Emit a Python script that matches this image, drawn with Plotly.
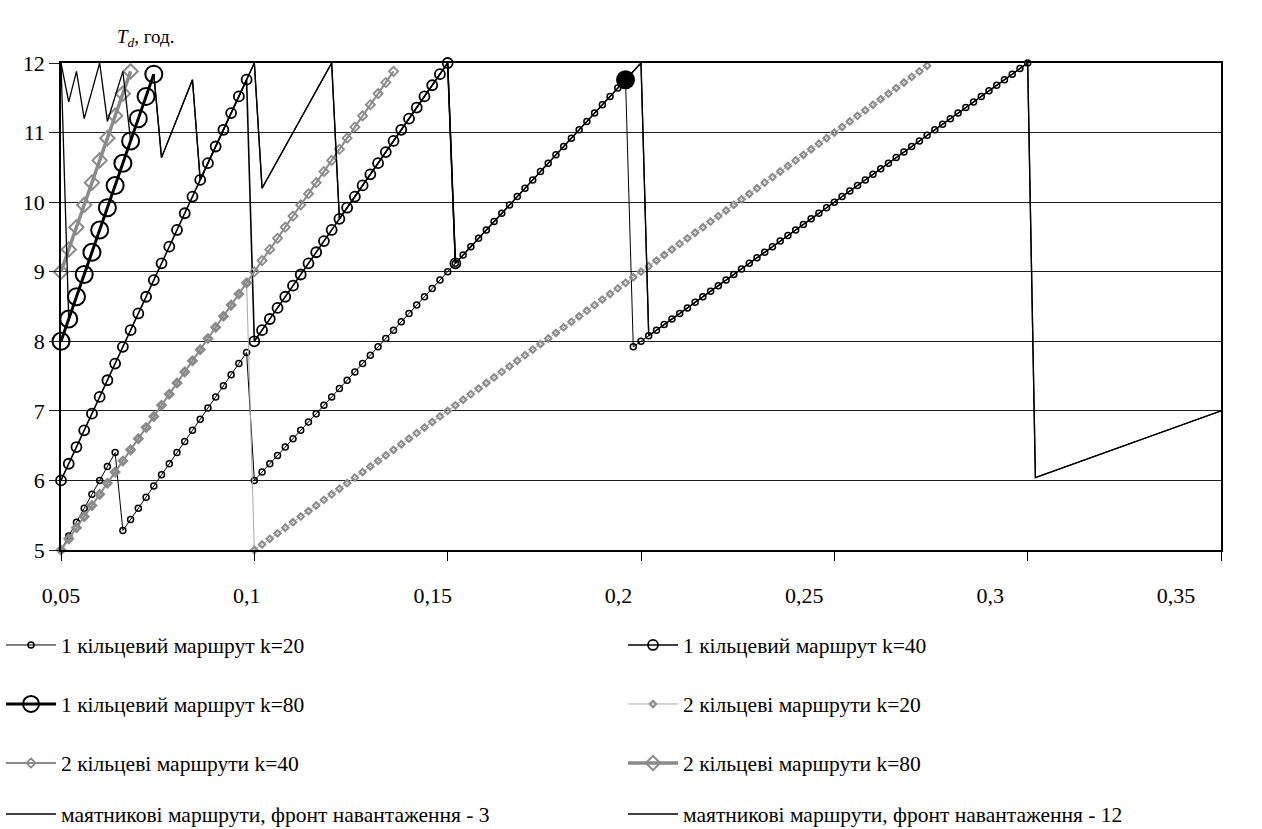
import plotly.graph_objects as go

# ---------------- data ----------------
# 1 ring route, k=20
R1_K20_X = [0.050, 0.052, 0.054, 0.056, 0.058, 0.060, 0.062, 0.064,
            0.066, 0.068, 0.070, 0.072, 0.074, 0.076, 0.078, 0.080, 0.082, 0.084, 0.086, 0.088,
            0.090, 0.092, 0.094, 0.096, 0.098,
            0.100, 0.102, 0.104, 0.106, 0.108, 0.110, 0.112, 0.114, 0.116, 0.118,
            0.120, 0.122, 0.124, 0.126, 0.128, 0.130, 0.132, 0.134, 0.136, 0.138,
            0.140, 0.142, 0.144, 0.146, 0.148, 0.150, 0.152, 0.154, 0.156, 0.158,
            0.160, 0.162, 0.164, 0.166, 0.168, 0.170, 0.172, 0.174, 0.176, 0.178,
            0.180, 0.182, 0.184, 0.186, 0.188, 0.190, 0.192, 0.194, 0.196,
            0.198, 0.200, 0.202, 0.204, 0.206, 0.208, 0.210, 0.212, 0.214, 0.216,
            0.218, 0.220, 0.222, 0.224, 0.226, 0.228, 0.230, 0.232, 0.234, 0.236,
            0.238, 0.240, 0.242, 0.244, 0.246, 0.248, 0.250, 0.252, 0.254, 0.256,
            0.258, 0.260, 0.262, 0.264, 0.266, 0.268, 0.270, 0.272, 0.274, 0.276,
            0.278, 0.280, 0.282, 0.284, 0.286, 0.288, 0.290, 0.292, 0.294, 0.296,
            0.298, 0.300]
R1_K20_Y = [5.00, 5.20, 5.40, 5.60, 5.80, 6.00, 6.20, 6.40,
            5.28, 5.44, 5.60, 5.76, 5.92, 6.08, 6.24, 6.40, 6.56, 6.72, 6.88, 7.04,
            7.20, 7.36, 7.52, 7.68, 7.84,
            6.00, 6.12, 6.24, 6.36, 6.48, 6.60, 6.72, 6.84, 6.96, 7.08,
            7.20, 7.32, 7.44, 7.56, 7.68, 7.80, 7.92, 8.04, 8.16, 8.28,
            8.40, 8.52, 8.64, 8.76, 8.88, 9.00, 9.12, 9.24, 9.36, 9.48,
            9.60, 9.72, 9.84, 9.96, 10.08, 10.20, 10.32, 10.44, 10.56, 10.68,
            10.80, 10.92, 11.04, 11.16, 11.28, 11.40, 11.52, 11.64, 11.76,
            7.92, 8.00, 8.08, 8.16, 8.24, 8.32, 8.40, 8.48, 8.56, 8.64,
            8.72, 8.80, 8.88, 8.96, 9.04, 9.12, 9.20, 9.28, 9.36, 9.44,
            9.52, 9.60, 9.68, 9.76, 9.84, 9.92, 10.00, 10.08, 10.16, 10.24,
            10.32, 10.40, 10.48, 10.56, 10.64, 10.72, 10.80, 10.88, 10.96, 11.04,
            11.12, 11.20, 11.28, 11.36, 11.44, 11.52, 11.60, 11.68, 11.76, 11.84,
            11.92, 12.00]
# point of the k=20 series drawn as a filled dot
R1_K20_HIGHLIGHT_X = 0.196

# 1 ring route, k=40
R1_K40_X = [0.050, 0.052, 0.054, 0.056, 0.058, 0.060, 0.062, 0.064, 0.066, 0.068,
            0.070, 0.072, 0.074, 0.076, 0.078, 0.080, 0.082, 0.084, 0.086, 0.088,
            0.090, 0.092, 0.094, 0.096, 0.098,
            0.100, 0.102, 0.104, 0.106, 0.108, 0.110, 0.112, 0.114, 0.116, 0.118,
            0.120, 0.122, 0.124, 0.126, 0.128, 0.130, 0.132, 0.134, 0.136, 0.138,
            0.140, 0.142, 0.144, 0.146, 0.148, 0.150, 0.152]
R1_K40_Y = [6.00, 6.24, 6.48, 6.72, 6.96, 7.20, 7.44, 7.68, 7.92, 8.16,
            8.40, 8.64, 8.88, 9.12, 9.36, 9.60, 9.84, 10.08, 10.32, 10.56,
            10.80, 11.04, 11.28, 11.52, 11.76,
            8.00, 8.16, 8.32, 8.48, 8.64, 8.80, 8.96, 9.12, 9.28, 9.44,
            9.60, 9.76, 9.92, 10.08, 10.24, 10.40, 10.56, 10.72, 10.88, 11.04,
            11.20, 11.36, 11.52, 11.68, 11.84, 12.00, 9.12]

# 1 ring route, k=80
R1_K80_X = [0.050, 0.052, 0.054, 0.056, 0.058, 0.060, 0.062, 0.064, 0.066, 0.068,
            0.070, 0.072, 0.074]
R1_K80_Y = [8.00, 8.32, 8.64, 8.96, 9.28, 9.60, 9.92, 10.24, 10.56, 10.88,
            11.20, 11.52, 11.84]

# 2 ring routes, k=20
R2_K20_X = [0.050, 0.052, 0.054, 0.056, 0.058, 0.060, 0.062, 0.064, 0.066, 0.068,
            0.070, 0.072, 0.074, 0.076, 0.078, 0.080, 0.082, 0.084, 0.086, 0.088,
            0.090, 0.092, 0.094, 0.096, 0.098,
            0.100, 0.102, 0.104, 0.106, 0.108, 0.110, 0.112, 0.114, 0.116, 0.118,
            0.120, 0.122, 0.124, 0.126, 0.128, 0.130, 0.132, 0.134, 0.136, 0.138,
            0.140, 0.142, 0.144, 0.146, 0.148, 0.150, 0.152, 0.154, 0.156, 0.158,
            0.160, 0.162, 0.164, 0.166, 0.168, 0.170, 0.172, 0.174, 0.176, 0.178,
            0.180, 0.182, 0.184, 0.186, 0.188, 0.190, 0.192, 0.194, 0.196, 0.198,
            0.200, 0.202, 0.204, 0.206, 0.208, 0.210, 0.212, 0.214, 0.216, 0.218,
            0.220, 0.222, 0.224, 0.226, 0.228, 0.230, 0.232, 0.234, 0.236, 0.238,
            0.240, 0.242, 0.244, 0.246, 0.248, 0.250, 0.252, 0.254, 0.256, 0.258,
            0.260, 0.262, 0.264, 0.266, 0.268, 0.270, 0.272, 0.274]
R2_K20_Y = [5.00, 5.16, 5.32, 5.48, 5.64, 5.80, 5.96, 6.12, 6.28, 6.44,
            6.60, 6.76, 6.92, 7.08, 7.24, 7.40, 7.56, 7.72, 7.88, 8.04,
            8.20, 8.36, 8.52, 8.68, 8.84,
            5.00, 5.08, 5.16, 5.24, 5.32, 5.40, 5.48, 5.56, 5.64, 5.72,
            5.80, 5.88, 5.96, 6.04, 6.12, 6.20, 6.28, 6.36, 6.44, 6.52,
            6.60, 6.68, 6.76, 6.84, 6.92, 7.00, 7.08, 7.16, 7.24, 7.32,
            7.40, 7.48, 7.56, 7.64, 7.72, 7.80, 7.88, 7.96, 8.04, 8.12,
            8.20, 8.28, 8.36, 8.44, 8.52, 8.60, 8.68, 8.76, 8.84, 8.92,
            9.00, 9.08, 9.16, 9.24, 9.32, 9.40, 9.48, 9.56, 9.64, 9.72,
            9.80, 9.88, 9.96, 10.04, 10.12, 10.20, 10.28, 10.36, 10.44, 10.52,
            10.60, 10.68, 10.76, 10.84, 10.92, 11.00, 11.08, 11.16, 11.24, 11.32,
            11.40, 11.48, 11.56, 11.64, 11.72, 11.80, 11.88, 11.96]

# 2 ring routes, k=40
R2_K40_X = [0.050, 0.052, 0.054, 0.056, 0.058, 0.060, 0.062, 0.064, 0.066, 0.068,
            0.070, 0.072, 0.074, 0.076, 0.078, 0.080, 0.082, 0.084, 0.086, 0.088,
            0.090, 0.092, 0.094, 0.096, 0.098, 0.100, 0.102, 0.104, 0.106, 0.108,
            0.110, 0.112, 0.114, 0.116, 0.118, 0.120, 0.122, 0.124, 0.126, 0.128,
            0.130, 0.132, 0.134, 0.136]
R2_K40_Y = [5.00, 5.16, 5.32, 5.48, 5.64, 5.80, 5.96, 6.12, 6.28, 6.44,
            6.60, 6.76, 6.92, 7.08, 7.24, 7.40, 7.56, 7.72, 7.88, 8.04,
            8.20, 8.36, 8.52, 8.68, 8.84, 9.00, 9.16, 9.32, 9.48, 9.64,
            9.80, 9.96, 10.12, 10.28, 10.44, 10.60, 10.76, 10.92, 11.08, 11.24,
            11.40, 11.56, 11.72, 11.88]

# 2 ring routes, k=80
R2_K80_X = [0.050, 0.052, 0.054, 0.056, 0.058, 0.060, 0.062, 0.064, 0.066, 0.068]
R2_K80_Y = [9.00, 9.32, 9.64, 9.96, 10.28, 10.60, 10.92, 11.24, 11.56, 11.88]

# pendulum routes (break points of the polylines)
P3_X = [0.050, 0.052, 0.074, 0.076, 0.084, 0.086, 0.100, 0.102, 0.120, 0.122,
        0.150, 0.152, 0.200, 0.202, 0.300, 0.302, 0.354]
P3_Y = [12.00, 8.32, 11.84, 10.64, 11.76, 10.32, 12.00, 10.20, 12.00, 9.76,
        12.00, 9.12, 12.00, 8.08, 12.00, 6.04, 7.08]
P12_X = [0.050, 0.052, 0.054, 0.056, 0.060, 0.062, 0.066, 0.068, 0.074, 0.076,
         0.084, 0.086, 0.100, 0.102, 0.120, 0.122, 0.150, 0.152, 0.200, 0.202,
         0.300, 0.302, 0.354]
P12_Y = [12.00, 11.44, 11.88, 11.20, 12.00, 11.16, 11.88, 10.88, 11.84, 10.64,
         11.76, 10.32, 12.00, 10.20, 12.00, 9.76, 12.00, 9.12, 12.00, 8.08,
         12.00, 6.04, 7.08]

SERIES_NAMES = [
    "1 кільцевий маршрут k=20",
    "1 кільцевий маршрут k=40",
    "1 кільцевий маршрут k=80",
    "2 кільцеві маршрути k=20",
    "2 кільцеві маршрути k=40",
    "2 кільцеві маршрути k=80",
    "маятникові маршрути, фронт навантаження - 3",
    "маятникові маршрути, фронт навантаження - 12",
]

X_TICKS = [0.05, 0.10, 0.15, 0.20, 0.25, 0.30, 0.35]
X_TICK_TEXT = ["0,05", "0,1", "0,15", "0,2", "0,25", "0,3", "0,35"]
Y_TICKS = [5, 6, 7, 8, 9, 10, 11, 12]

# ---------------- figure ----------------
FONT = "Liberation Serif, Times New Roman, serif"
BLACK = "#000000"
GREY = "#8a8a8a"
LIGHT_GREY = "#a8a8a8"

# plot area: 61..1221 px horizontally, 63..550 px vertically
PLOT_L, PLOT_T = 61, 63
PLOT_W, PLOT_H = 1160, 487
LABEL_SPAN = 1115          # horizontal extent of the tick-label row
LEGEND_TEXT_OFFSET = 60    # legend box edge -> start of the item text
LEGEND_COLS = [61, 683]    # text start of the two legend columns (px)
LEGEND_ROWS = [645, 704, 763, 814]  # row centres (px)

fig = go.Figure()


def legend_id(i):
    return "legend" if i == 0 else f"legend{i + 1}"


def legend_box(i):
    col, row = i % 2, i // 2
    left = LEGEND_COLS[col] - LEGEND_TEXT_OFFSET
    return dict(
        orientation="h", x=(left - PLOT_L) / PLOT_W, xanchor="left",
        y=(PLOT_T + PLOT_H - LEGEND_ROWS[row]) / PLOT_H, yanchor="middle",
        font=dict(family=FONT, size=21.5, color=BLACK),
        itemwidth=50, bgcolor="rgba(0,0,0,0)", borderwidth=0,
    )


def add_series(i, x, y, line, marker=None):
    fig.add_trace(go.Scatter(
        x=x, y=y, name=SERIES_NAMES[i], legend=legend_id(i),
        mode="lines+markers" if marker else "lines",
        line=line, marker=marker, cliponaxis=False,
        hoverinfo="skip",
    ))


add_series(0, R1_K20_X, R1_K20_Y,
           dict(color=BLACK, width=1),
           dict(symbol="circle-open", size=6, color=BLACK, line=dict(width=1.5, color=BLACK)))
add_series(1, R1_K40_X, R1_K40_Y,
           dict(color=BLACK, width=1.6),
           dict(symbol="circle-open", size=10, color=BLACK, line=dict(width=1.8, color=BLACK)))
add_series(2, R1_K80_X, R1_K80_Y,
           dict(color=BLACK, width=3),
           dict(symbol="circle-open", size=17, color=BLACK, line=dict(width=2, color=BLACK)))
add_series(3, R2_K20_X, R2_K20_Y,
           dict(color=LIGHT_GREY, width=1),
           dict(symbol="diamond-open", size=5, color=GREY, line=dict(width=2, color=GREY)))
add_series(4, R2_K40_X, R2_K40_Y,
           dict(color=GREY, width=2),
           dict(symbol="diamond-open", size=7, color=GREY, line=dict(width=1.8, color=GREY)))
add_series(5, R2_K80_X, R2_K80_Y,
           dict(color=GREY, width=3.5),
           dict(symbol="diamond-open", size=11, color=GREY, line=dict(width=2, color=GREY)))
add_series(6, P3_X, P3_Y, dict(color=BLACK, width=1.3))
add_series(7, P12_X, P12_Y, dict(color=BLACK, width=1.3))

# filled dot on the k=20 series
hi = R1_K20_X.index(R1_K20_HIGHLIGHT_X)
fig.add_trace(go.Scatter(
    x=[R1_K20_X[hi]], y=[R1_K20_Y[hi]], mode="markers", showlegend=False,
    marker=dict(symbol="circle", size=19, color=BLACK), cliponaxis=False, hoverinfo="skip",
))

# empty trace so the tick-label axis gets drawn
fig.add_trace(go.Scatter(x=[], y=[], xaxis="x2", yaxis="y", showlegend=False, hoverinfo="skip"))

layout_legends = {legend_id(i): legend_box(i) for i in range(len(SERIES_NAMES))}

fig.update_layout(
    width=1262, height=829,
    margin=dict(l=PLOT_L, r=1262 - PLOT_L - PLOT_W, t=PLOT_T, b=829 - PLOT_T - PLOT_H,
                autoexpand=False),
    paper_bgcolor="white", plot_bgcolor="white",
    font=dict(family=FONT, color=BLACK),
    showlegend=True,
    xaxis=dict(
        range=[0.05, 0.35], tickmode="array", tickvals=X_TICKS,
        showticklabels=False, ticks="outside", ticklen=9, tickcolor=BLACK, tickwidth=1,
        showgrid=False, zeroline=False,
        showline=True, linecolor=BLACK, linewidth=1.5, mirror=True,
    ),
    xaxis2=dict(
        overlaying="x", anchor="y", side="bottom",
        range=[0.05, 0.05 + 0.30 * PLOT_W / LABEL_SPAN],
        tickmode="array", tickvals=X_TICKS, ticktext=X_TICK_TEXT, ticks="",
        showgrid=False, zeroline=False, showline=False,
        tickfont=dict(family=FONT, size=22, color=BLACK),
        ticklabelstandoff=30,
    ),
    yaxis=dict(
        range=[5, 12], tickmode="array", tickvals=Y_TICKS,
        ticks="outside", ticklen=10, tickcolor="#1f1f1f",
        tickfont=dict(family=FONT, size=22, color=BLACK),
        showgrid=True, gridcolor="#1f1f1f", gridwidth=1,
        zeroline=False, showline=True, linecolor=BLACK, linewidth=1.5, mirror=True,
    ),
    annotations=[dict(
        text="<i>T<sub>d</sub></i>, год.", xref="paper", yref="paper",
        x=(115 - PLOT_L) / PLOT_W, y=1 + (PLOT_T - 38) / PLOT_H,
        xanchor="left", yanchor="middle",
        showarrow=False, font=dict(family=FONT, size=19, color=BLACK),
    )],
    **layout_legends,
)

fig.write_html("out.html")
